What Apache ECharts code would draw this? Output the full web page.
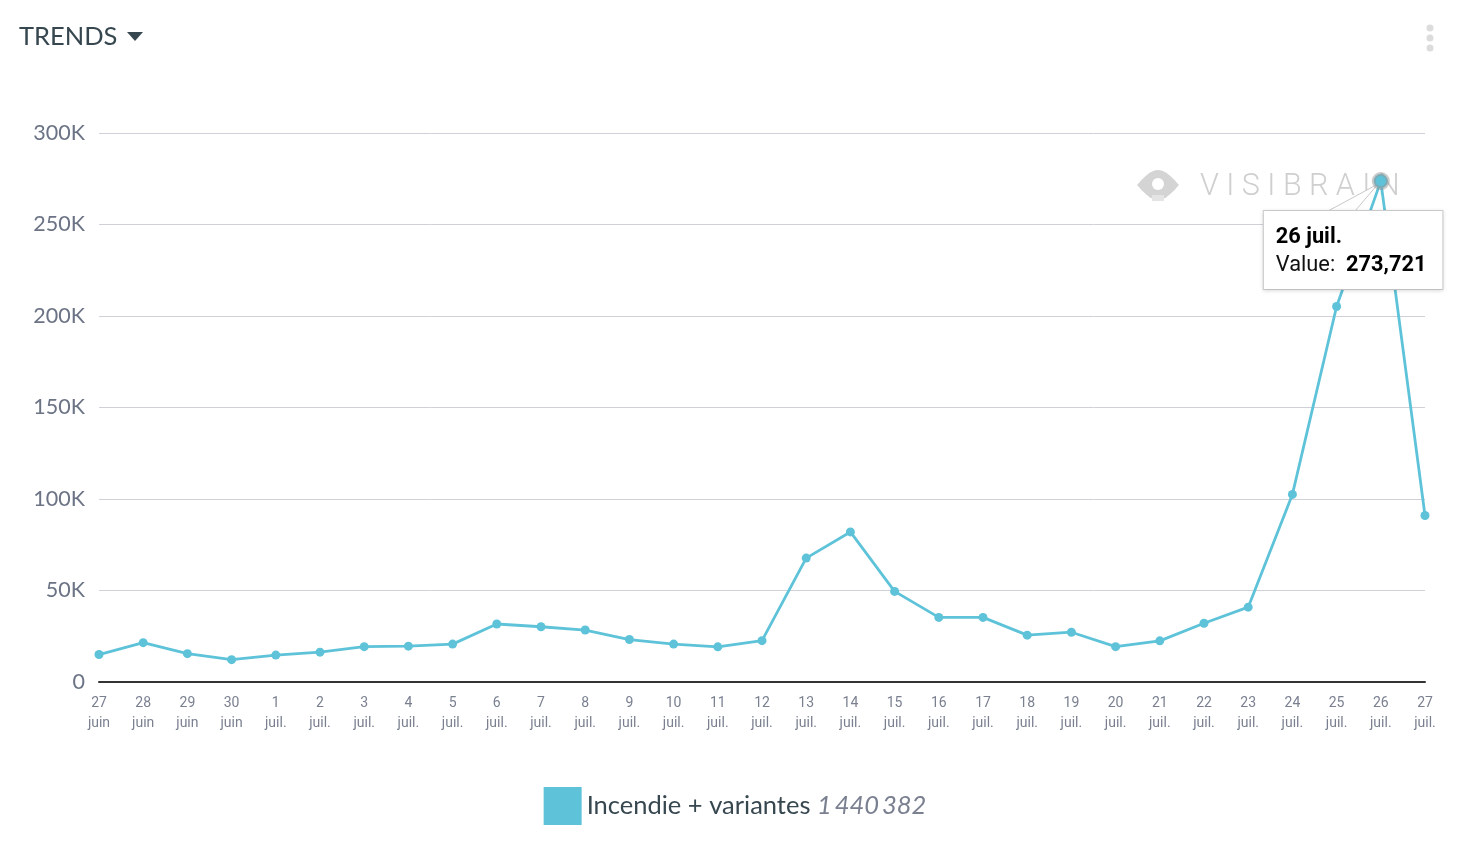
<!DOCTYPE html>
<html><head><meta charset="utf-8">
<script src="https://cdn.jsdelivr.net/npm/echarts@6/dist/echarts.min.js"></script>
<style>html,body{margin:0;padding:0;background:#fff;}#c{width:1470px;height:858px;}</style>
</head><body><div id="c"></div>
<script>
const days = ['27','28','29','30','1','2','3','4','5','6','7','8','9','10','11','12','13','14','15','16','17','18','19','20','21','22','23','24','25','26','27'];
const months = ['juin','juin','juin','juin','juil.','juil.','juil.','juil.','juil.','juil.','juil.','juil.','juil.','juil.','juil.','juil.','juil.','juil.','juil.','juil.','juil.','juil.','juil.','juil.','juil.','juil.','juil.','juil.','juil.','juil.','juil.'];
const values = [15000,21500,15500,12200,14700,16300,19300,19600,20700,31700,30200,28400,23200,20700,19200,22600,67700,82000,49500,35300,35300,25600,27200,19300,22500,32100,40900,102500,205200,273721,91000];
const yTicks = [0,50000,100000,150000,200000,250000,300000];
const seriesName = 'Incendie + variantes';
const totalLabel = '1\u2009440\u2009382';
const tipIndex = 29;

const categories = days.map((d,i)=>d+'\n'+months[i]);
const color = '#5ec3d9';

// eye-shaped watermark icon outline (decoration)
const eyePts = [];
for (let k=0;k<=20;k++){const t=k/20;eyePts.push([1137+42*t,185-15*Math.sin(Math.PI*t)]);}
for (let k=19;k>=1;k--){const t=k/20;eyePts.push([1137+42*t,185+15*Math.sin(Math.PI*t)]);}

const chart = echarts.init(document.getElementById('c'));
chart.setOption({
  animation:false,
  grid:{left:99,right:45,top:133,bottom:176,containLabel:false},
  xAxis:{type:'category',data:categories,boundaryGap:false,
    axisLine:{lineStyle:{color:'#333',width:2}},axisTick:{show:false},
    axisLabel:{color:'#7a8090',fontFamily:'Roboto',fontSize:14,lineHeight:20,margin:11,interval:0}},
  yAxis:{type:'value',min:0,max:300000,interval:50000,
    axisLine:{show:false},axisTick:{show:false},
    splitLine:{lineStyle:{color:'#d0d0d8',width:1}},
    axisLabel:{color:'#6b7385',fontFamily:'Lato',fontSize:21.5,margin:14,
      formatter:v=> yTicks.includes(v)?(v===0?'0':(v/1000)+'K'):''}},
  legend:{bottom:28,left:'center',itemWidth:38,itemHeight:38,icon:'rect',itemGap:9,
    data:[seriesName],
    formatter:n=>n+' {i|'+totalLabel+'}',
    textStyle:{color:'#37474f',fontFamily:'Lato',fontSize:25.5,
      rich:{i:{fontStyle:'italic',color:'#7a8090',fontFamily:'Lato',fontSize:25.5}}}},
  graphic:[
    {type:'text',x:19,y:24,style:{text:'TRENDS',fill:'#37474f',font:'25.5px Lato'}},
    {type:'polygon',shape:{points:[[127,32],[143,32],[135,41]]},style:{fill:'#37474f'}},
    {type:'circle',shape:{cx:1430,cy:28,r:3.5},style:{fill:'#dcdcdc'}},
    {type:'circle',shape:{cx:1430,cy:38,r:3.5},style:{fill:'#dcdcdc'}},
    {type:'circle',shape:{cx:1430,cy:48,r:3.5},style:{fill:'#dcdcdc'}},
    {type:'polygon',z:1,shape:{points:eyePts},style:{fill:'#d4d4d4'}},
    {type:'circle',z:1,shape:{cx:1158,cy:184,r:6},style:{fill:'#fff'}},
    {type:'rect',z:1,shape:{x:1152,y:195,width:12,height:6},style:{fill:'#e4e4e4'}},
    {type:'text',z:1,x:1200,y:172,style:{text:'V I S I B R A I N',fill:'#cfcfcf',font:'300 30.5px Roboto'}},
    {type:'polyline',z:50,shape:{points:[[1328,211],[1378,184],[1355,211]]},style:{stroke:'#c8c8c8',fill:'#fff',lineWidth:1}}
  ],
  series:[{name:seriesName,type:'line',data:values,color:color,
    symbol:'circle',symbolSize:9,lineStyle:{width:2.8,color:color},itemStyle:{color:color},z:5,
    markPoint:{symbol:'circle',symbolSize:14,z:60,
      itemStyle:{color:color,borderColor:'rgba(150,150,150,0.5)',borderWidth:4},
      data:[{coord:[tipIndex,values[tipIndex]],value:values[tipIndex]}],
      label:{show:true,position:'inside',offset:[-117,69],
        formatter:p=>'{b|'+days[tipIndex]+' '+months[tipIndex]+'}\n{n|Value:  }{b|'+p.value.toLocaleString('en-US')+'}',
        backgroundColor:'#fff',borderColor:'#cfcfcf',borderWidth:1,padding:[12,16,10,12],
        shadowColor:'rgba(0,0,0,0.12)',shadowBlur:4,shadowOffsetY:1,align:'left',
        rich:{b:{fontFamily:'Roboto',fontWeight:'bold',fontSize:21.8,color:'#000',lineHeight:28},
              n:{fontFamily:'Roboto',fontSize:21.8,color:'#111',lineHeight:28}}}}
  }]
});
</script></body></html>
